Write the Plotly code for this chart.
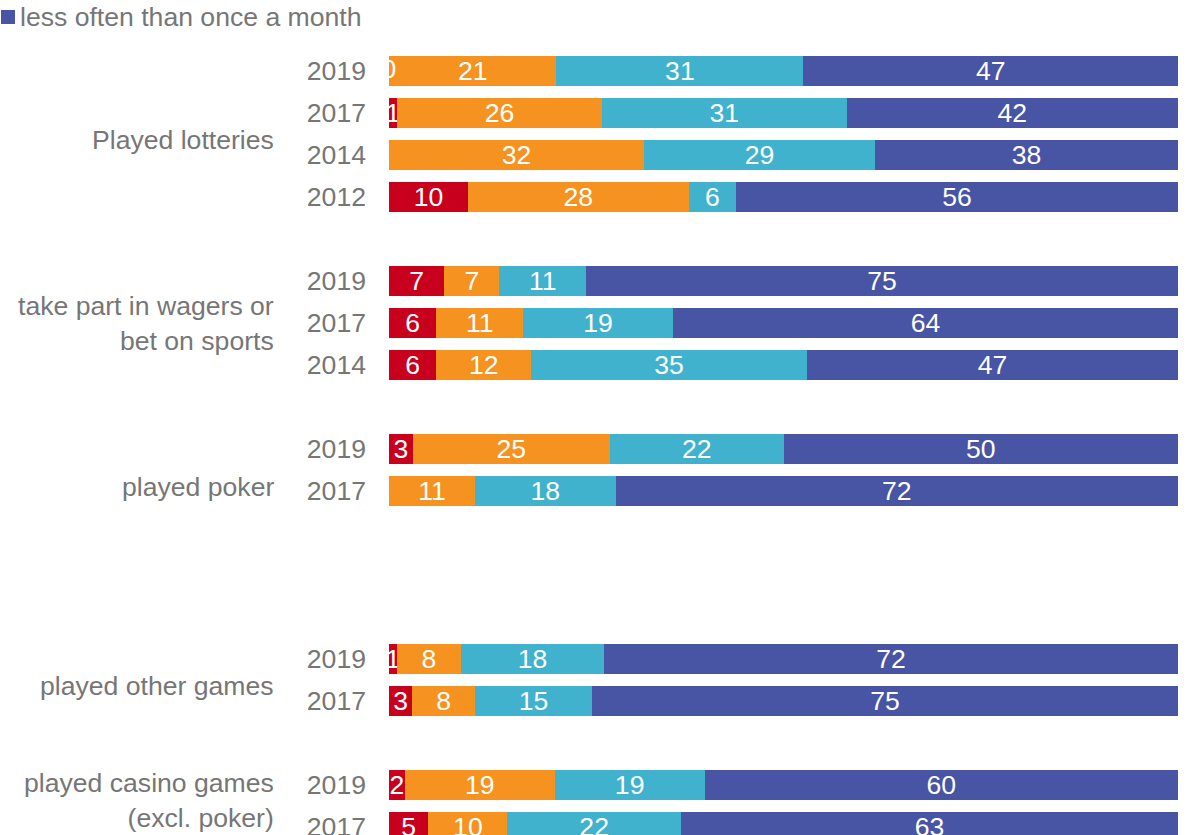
import plotly.graph_objects as go

# ---- data ----
groups = ["Played lotteries", "Played lotteries", "Played lotteries", "Played lotteries",
          "take part in wagers or<br>bet on sports", "take part in wagers or<br>bet on sports",
          "take part in wagers or<br>bet on sports",
          "played poker", "played poker",
          "played other games", "played other games",
          "played casino games<br>(excl. poker)", "played casino games<br>(excl. poker)"]
years = ["2019", "2017", "2014", "2012",
         "2019", "2017", "2014",
         "2019", "2017",
         "2019", "2017",
         "2019", "2017"]
# slot index of each row (empty slots separate the groups)
slots = [0, 1, 2, 3, 5, 6, 7, 9, 10, 14, 15, 17, 18]

series_names = ["daily / several times a week", "once a week or several times a month",
                "once a month", "less often than once a month"]
s1 = [0, 1, None, 10, 7, 6, 6, 3, None, 1, 3, 2, 5]
s2 = [21, 26, 32, 28, 7, 11, 12, 25, 11, 8, 8, 19, 10]
s3 = [31, 31, 29, 6, 11, 19, 35, 22, 18, 18, 15, 19, 22]
s4 = [47, 42, 38, 56, 75, 64, 47, 50, 72, 72, 75, 60, 63]
series = [s1, s2, s3, s4]
colors = ["#C8001E", "#F59220", "#40B2CE", "#4854A4"]
legend_shown = ["less often than once a month"]

group_labels = ["Played lotteries", "take part in wagers or<br>bet on sports", "played poker",
                "played other games", "played casino games<br>(excl. poker)"]
group_label_pos = [1.64, 6.0, 9.9, 14.64, 17.38]

GRAY = "#767676"
FONT = "Liberation Sans, Arial, sans-serif"
FS = 26.6

L, R, T, W, H = 389, 16, 50, 1194, 835
PW, PH = W - L - R, H - T


def px_x(p):
    return (p - L) / PW


def px_y(p):
    return 1 + (T - p) / PH


fig = go.Figure()
for name, vals, col in zip(series_names, series, colors):
    fig.add_trace(go.Bar(
        y=slots, x=[v if v is not None else 0 for v in vals], orientation="h",
        name=name, marker=dict(color=col, line=dict(width=0)),
        text=[str(v) if v else "" for v in vals],
        textposition="inside", insidetextanchor="middle", textangle=0,
        textfont=dict(color="white", size=FS, family=FONT),
        constraintext="none", cliponaxis=True, showlegend=False,
        width=0.714, hoverinfo="skip",
    ))

# labels for zero-valued segments (drawn at their start, clipped by the axis)
totals = [sum(v for v in col if v is not None) for col in zip(*series)]
zx, zy = [], []
for k, vals in enumerate(series):
    for i, v in enumerate(vals):
        if v == 0:
            start = sum((series[j][i] or 0) for j in range(k))
            zx.append(100.0 * start / totals[i])
            zy.append(slots[i])
fig.add_trace(go.Scatter(x=zx, y=zy, mode="text", text=["0"] * len(zx),
                         textfont=dict(color="white", size=FS, family=FONT),
                         cliponaxis=True, showlegend=False, hoverinfo="skip"))

for lab, pos in zip(group_labels, group_label_pos):
    fig.add_annotation(x=px_x(276), xref="paper", xanchor="right",
                       y=pos, yref="y", yanchor="middle", text=lab, showarrow=False,
                       align="right", font=dict(size=FS, color=GRAY, family=FONT))

# legend entry (only the last row of the original legend is visible)
for name in legend_shown:
    col = colors[series_names.index(name)]
    fig.add_shape(type="rect", xref="paper", yref="paper",
                  x0=px_x(1), x1=px_x(15), y0=px_y(24), y1=px_y(10),
                  fillcolor=col, line=dict(width=0))
    fig.add_annotation(x=px_x(18), xref="paper", xanchor="left",
                       y=px_y(17), yref="paper", yanchor="middle", text=name,
                       showarrow=False, font=dict(size=FS, color=GRAY, family=FONT))

fig.update_layout(
    width=W, height=H, barmode="stack", barnorm="percent",
    plot_bgcolor="white", paper_bgcolor="white",
    margin=dict(l=L, r=R, t=T, b=0, autoexpand=False),
    font=dict(family=FONT, color=GRAY, size=FS),
    showlegend=False,
    xaxis=dict(range=[0, 100], visible=False, fixedrange=True),
    yaxis=dict(range=[(H - 71) / 42, (T - 71) / 42], tickmode="array", tickvals=slots,
               ticktext=years, showgrid=False, zeroline=False, showline=False, ticks="",
               ticklabelstandoff=22, automargin=False, ticklabeloverflow="allow",
               tickfont=dict(size=FS, color=GRAY, family=FONT)),
)

fig.write_html("out.html", config={"displayModeBar": False},
               post_script="document.body.style.margin='0';")
